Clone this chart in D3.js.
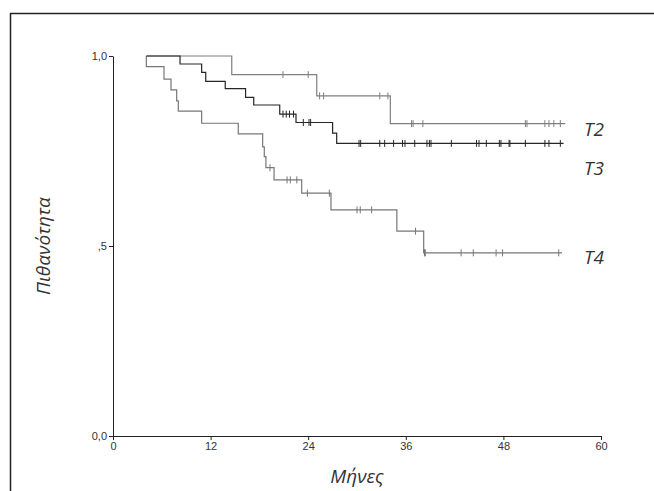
<!DOCTYPE html>
<html>
<head>
<meta charset="utf-8">
<script src="https://cdn.jsdelivr.net/npm/d3@7"></script>
<style>
  body { margin: 0; background: #fff; }
  svg { display: block; }
</style>
</head>
<body>
<div class="chart"></div>
<script>
// Kaplan-Meier curves (months, survival)
const t2Times = [4.1, 14.6, 25.05, 34.1];
const t2Surv  = [1.0, 0.951, 0.895, 0.822];
const t2Censor = [20.9, 24.0, 25.4, 25.9, 32.8, 33.8, 36.7, 36.9, 38.1, 50.7, 50.9, 53.1, 53.6, 54.2, 55.0];
const t2End = 55.6;

const t3Times = [4.1, 8.24, 10.9, 11.4, 13.8, 16.3, 17.3, 20.5, 22.5, 27.0, 27.5];
const t3Surv  = [1.0, 0.979, 0.957, 0.933, 0.914, 0.891, 0.871, 0.847, 0.825, 0.797, 0.770];
const t3Censor = [20.9, 21.3, 21.7, 22.2, 23.4, 24.1, 24.3, 30.25, 30.45, 32.8, 33.4, 34.5, 35.6, 35.9,
                  37.1, 38.6, 38.9, 39.1, 41.6, 44.7, 45.0, 45.9, 47.5, 47.7, 48.7, 48.8, 50.7, 53.1, 53.6, 55.0];
const t3End = 55.4;

const t4Times = [4.1, 4.1, 6.27, 7.13, 7.83, 8.03, 10.9, 15.4, 18.4, 18.6, 18.8, 19.8, 23.2, 26.8, 34.9, 38.2];
const t4Surv  = [1.0, 0.972, 0.939, 0.911, 0.882, 0.855, 0.823, 0.795, 0.761, 0.735, 0.706, 0.674, 0.639, 0.595, 0.539, 0.482];
const t4Censor = [19.3, 21.4, 21.8, 22.6, 23.9, 26.6, 30.0, 30.4, 31.8, 37.2, 38.3, 38.4, 42.8, 44.3, 47.1, 47.9, 54.8];
const t4End = 55.2;

const xTicks = [0, 12, 24, 36, 48, 60];
const yTicks = [0, 0.5, 1];
const yTickLabels = ["0,0", ",5", "1,0"];

const groups = [
  { name: "T2", times: t2Times, surv: t2Surv, censor: t2Censor, end: t2End, color: "#7f7f7f", lx: 584, ly: 136 },
  { name: "T4", times: t4Times, surv: t4Surv, censor: t4Censor, end: t4End, color: "#777", lx: 584, ly: 264 },
  { name: "T3", times: t3Times, surv: t3Surv, censor: t3Censor, end: t3End, color: "#262626", lx: 584, ly: 175 }
];

const width = 654, height = 491;

const svg = d3.select(".chart").append("svg")
  .attr("width", width)
  .attr("height", height);

// frame
svg.append("rect")
  .attr("x", 10.5).attr("y", 13.5)
  .attr("width", 700).attr("height", 600)
  .attr("fill", "none")
  .attr("stroke", "#222")
  .attr("stroke-width", 1.5);

const x = d3.scaleLinear().domain([0, 60]).range([113, 601]);
const y = d3.scaleLinear().domain([0, 1]).range([436, 56]);

// axes
const xAxis = svg.append("g")
  .attr("transform", `translate(0,${y(0)})`)
  .call(d3.axisBottom(x).tickValues(xTicks).tickSize(4).tickSizeOuter(0));
const yAxis = svg.append("g")
  .attr("transform", `translate(${x(0)},0)`)
  .call(d3.axisLeft(y).tickValues(yTicks).tickSize(4).tickSizeOuter(0)
    .tickFormat((d, i) => yTickLabels[i]));

[xAxis, yAxis].forEach(a => {
  a.selectAll("path, line").attr("stroke", "#222");
  a.selectAll("text")
    .attr("fill", "#333")
    .style("font-family", "'Liberation Sans', Arial, sans-serif")
    .style("font-size", "11px");
});
yAxis.selectAll("text").attr("x", -6);
xAxis.selectAll("text").attr("y", 6);

// step function lookup
function survAt(g, t) {
  let s = g.surv[0];
  g.times.forEach((tt, i) => { if (tt <= t) s = g.surv[i]; });
  return s;
}

const line = d3.line()
  .x(d => x(d[0]))
  .y(d => y(d[1]))
  .curve(d3.curveStepAfter);

groups.forEach(g => {
  const pts = g.times.map((t, i) => [t, g.surv[i]]);
  pts.push([g.end, g.surv[g.surv.length - 1]]);

  svg.append("path")
    .datum(pts)
    .attr("fill", "none")
    .attr("stroke", g.color)
    .attr("stroke-width", 1.2)
    .attr("d", line);

  svg.selectAll(null)
    .data(g.censor)
    .enter()
    .append("line")
    .attr("x1", d => x(d)).attr("x2", d => x(d))
    .attr("y1", d => y(survAt(g, d)) - 3.5)
    .attr("y2", d => y(survAt(g, d)) + 3.5)
    .attr("stroke", g.color)
    .attr("stroke-width", 1);

  svg.append("text")
    .attr("x", g.lx).attr("y", g.ly)
    .attr("fill", "#333")
    .style("font-family", "'Open Sans', sans-serif")
    .style("font-style", "italic")
    .style("font-size", "19px")
    .text(g.name);
});

// axis titles
svg.append("text")
  .attr("x", 357).attr("y", 483)
  .attr("text-anchor", "middle")
  .attr("fill", "#333")
  .style("font-family", "'Open Sans', sans-serif")
  .style("font-style", "italic")
  .style("font-size", "19px")
  .text("Μήνες");

svg.append("text")
  .attr("transform", "translate(50,246) rotate(-90)")
  .attr("text-anchor", "middle")
  .attr("fill", "#333")
  .style("font-family", "'Open Sans', sans-serif")
  .style("font-style", "italic")
  .style("font-size", "19px")
  .text("Πιθανότητα");
</script>
</body>
</html>
